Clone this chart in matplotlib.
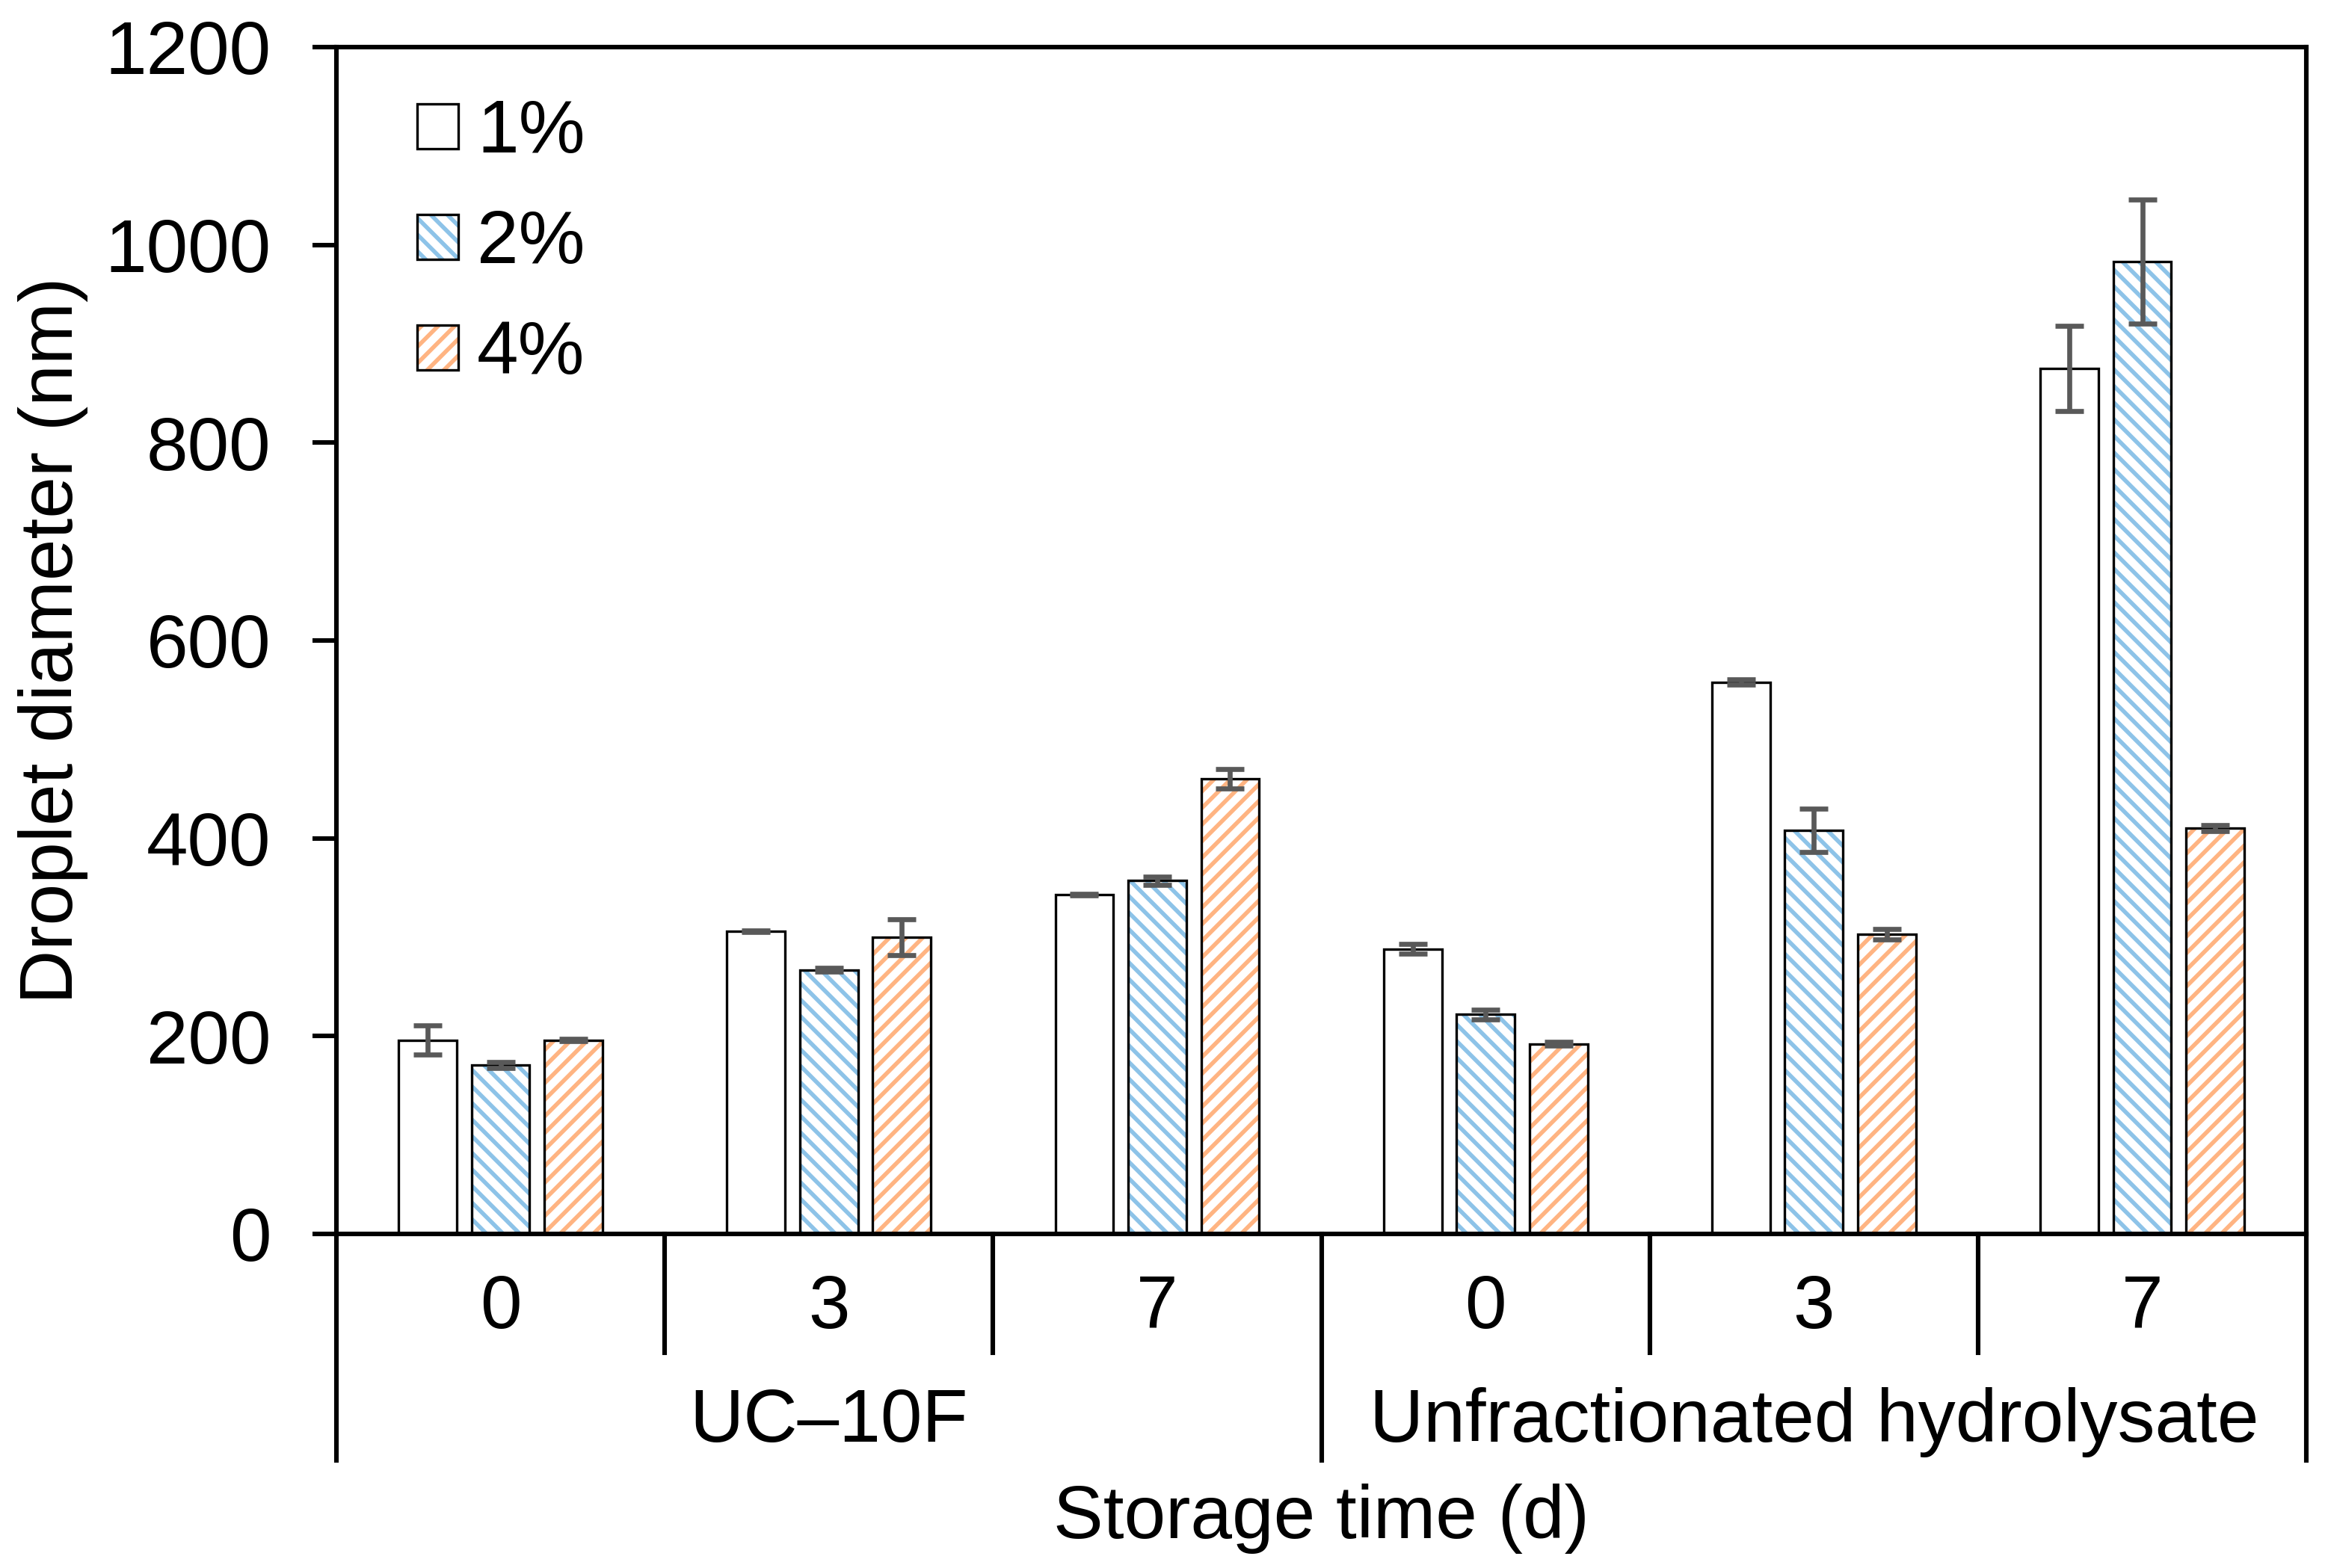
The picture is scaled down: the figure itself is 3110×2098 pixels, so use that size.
import numpy as np
import matplotlib
matplotlib.use("Agg")
import matplotlib.pyplot as plt
from matplotlib.patches import Patch
from matplotlib.lines import Line2D

plt.rcParams['font.family'] = ['Liberation Sans', 'DejaVu Sans']
plt.rcParams['hatch.linewidth'] = 2.0

# data
groups = ["UC\u201310F", "Unfractionated hydrolysate"]
days = ["0", "3", "7", "0", "3", "7"]
labels = ["1%", "2%", "4%"]
mean_1 = [196, 306, 343, 288, 558, 875]
mean_2 = [171, 267, 357, 222, 408, 983]
mean_4 = [196, 300, 460, 192, 303, 410]
err_1 = [15, 1, 1, 5, 3, 43]
err_2 = [3, 2, 4, 5, 22, 63]
err_4 = [1, 18, 10, 2, 5, 3]

fill_cols = ["none", "#8DC3E8", "#FFB482"]
hatches = [None, "\\\\\\", "///"]

fig = plt.figure(figsize=(15.55, 10.49), dpi=200)
ax = fig.add_axes([0.1447, 0.2131, 0.9920 - 0.1447, 0.970 - 0.2131])

x = np.arange(len(days))
width = 0.177
pitch = 0.222
LW_BAR = 1.2
handles = []
for i, (m, e) in enumerate(zip([mean_1, mean_2, mean_4], [err_1, err_2, err_4])):
    xs = x + (i - 1) * pitch
    if hatches[i]:
        ax.bar(xs, m, width, color="white", edgecolor=fill_cols[i],
               hatch=hatches[i], linewidth=0, zorder=2)
    ax.bar(xs, m, width, facecolor="none", edgecolor="black",
           linewidth=LW_BAR, zorder=3)
    ax.errorbar(xs, m, yerr=e, fmt="none", ecolor="#595959", elinewidth=2.4,
                capsize=7, capthick=2.4, zorder=4)
    outline = Patch(facecolor="none", edgecolor="black", linewidth=LW_BAR)
    if hatches[i]:
        h = (Patch(facecolor="white", edgecolor=fill_cols[i], hatch=hatches[i],
                   linewidth=0), outline)
    else:
        h = (Patch(facecolor="white", edgecolor="white", linewidth=0), outline)
    handles.append(h)

ax.set_xlim(-0.5, 5.5)
ax.set_ylim(0, 1200)
ax.set_yticks(range(0, 1201, 200))
ax.tick_params(axis="y", direction="out", length=11.5, width=2.2,
               labelsize=36, pad=20)
ax.set_xticks([])
for s in ax.spines.values():
    s.set_linewidth(2.2)
ax.set_ylabel("Droplet diameter (nm)", fontsize=36, labelpad=8)

# category axis below the plot
tr = ax.get_xaxis_transform()
for k in [0.5, 1.5, 3.5, 4.5]:
    ax.add_line(Line2D([k, k], [0, -0.100], transform=tr, color="black",
                       lw=2.2, clip_on=False))
for k in [-0.5, 2.5, 5.5]:
    ax.add_line(Line2D([k, k], [0, -0.191], transform=tr, color="black",
                       lw=2.2, clip_on=False))
for xi, d in zip(x, days):
    ax.text(xi, -0.063, d, transform=tr, ha="center", va="center", fontsize=36)
ax.text(1, -0.159, groups[0], transform=tr, ha="center", va="center", fontsize=36)
ax.text(4, -0.159, groups[1], transform=tr, ha="center", va="center", fontsize=36)
ax.text(0.5, -0.240, "Storage time (d)", transform=ax.transAxes,
        ha="center", va="center", fontsize=36)

ax.legend(handles, labels, loc="upper left", bbox_to_anchor=(0.041, 0.957),
          frameon=False, fontsize=36, borderpad=0, borderaxespad=0,
          handlelength=0.55, handleheight=0.55, handletextpad=0.25,
          labelspacing=0.54)

fig.savefig("out.png", dpi=200)
